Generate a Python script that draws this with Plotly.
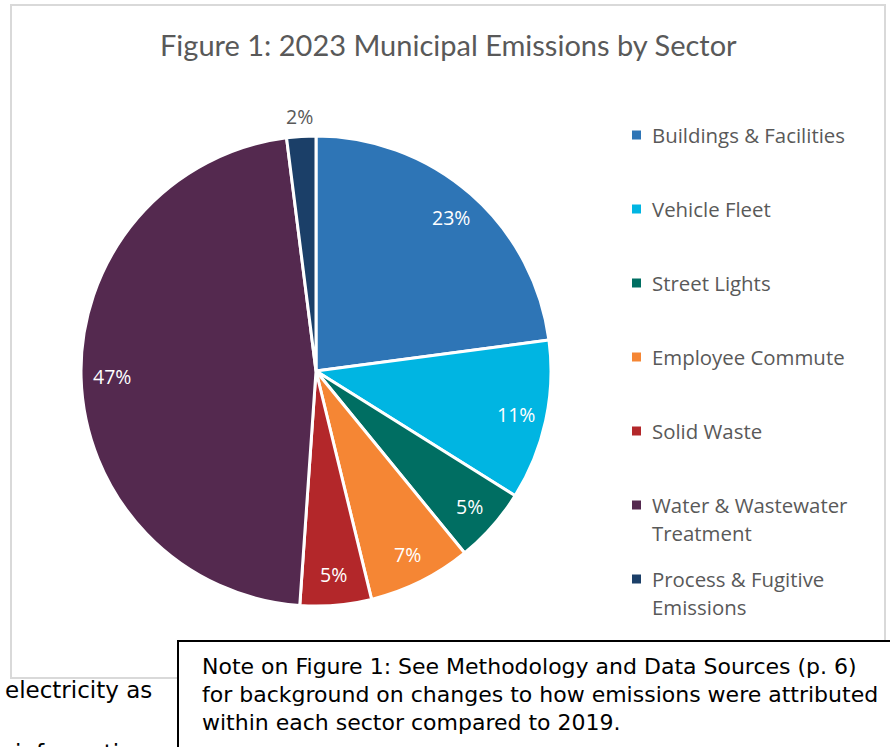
import math
import plotly.graph_objects as go

# ---- data ----
sectors = ["Buildings & Facilities", "Vehicle Fleet", "Street Lights", "Employee Commute",
           "Solid Waste", "Water & Wastewater<br>Treatment", "Process & Fugitive<br>Emissions"]
shares = [22.9, 11.0, 5.2, 7.1, 4.9, 46.9, 2.0]
colors = ["#2E75B6", "#00B5E2", "#006E62", "#F58634", "#B3272A", "#54294F", "#1B3F68"]
label_inside = [True, True, True, True, True, True, False]

title_text = "Figure 1: 2023 Municipal Emissions by Sector"
note_lines = ["Note on Figure 1: See Methodology and Data Sources (p. 6)",
              "for background on changes to how emissions were attributed",
              "within each sector compared to 2019."]
body_lines = ["electricity as", "information"]

W, H = 890, 747
def px(x):
    return x / W
def py(y):
    return 1 - y / H

# pie placement (pixels)
left, right, top, bottom = 81, 551, 136, 606
cx, cy = (left + right) / 2, (top + bottom) / 2
R = (right - left) / 2

fig = go.Figure()
fig.add_trace(go.Pie(
    labels=[s.replace("<br>", " ") for s in sectors],
    values=shares,
    sort=False,
    direction="clockwise",
    rotation=0,
    marker=dict(colors=colors, line=dict(color="white", width=3)),
    textinfo="none",
    domain=dict(x=[px(left), px(right)], y=[py(bottom), py(top)]),
    showlegend=False,
    hoverinfo="label+percent",
))

shapes = [
    dict(type="rect", xref="paper", yref="paper", x0=px(11), x1=px(885), y0=py(678), y1=py(5),
         line=dict(color="#D9D9D9", width=2), fillcolor="rgba(0,0,0,0)", layer="below"),
    dict(type="rect", xref="paper", yref="paper", x0=px(178), x1=1.02, y0=-0.02, y1=py(641),
         line=dict(color="black", width=2), fillcolor="white", layer="above"),
]
annotations = [
    dict(text=title_text, x=px(449), y=py(45), xref="paper", yref="paper", showarrow=False,
         xanchor="center", yanchor="middle", font=dict(family="Lato", size=29, color="#595959")),
]

# percentage labels placed along each slice's mid-angle
total = sum(shares)
cum = 0.0
for v, inside in zip(shares, label_inside):
    mid = (cum + v / 2) / total * 2 * math.pi
    cum += v
    r = R * (0.87 if inside else 1.085)
    x = cx + r * math.sin(mid)
    y = cy - r * math.cos(mid)
    annotations.append(dict(text=f"{round(v / total * 100)}%", x=px(x), y=py(y),
                            xref="paper", yref="paper", showarrow=False,
                            xanchor="center", yanchor="middle",
                            font=dict(family="Open Sans", size=19.5,
                                      color="white" if inside else "#595959")))

# legend built from categories
for i, (s, c) in enumerate(zip(sectors, colors)):
    yc = 135 + 74 * i
    shapes.append(dict(type="rect", xref="paper", yref="paper", x0=px(632), x1=px(641),
                       y0=py(yc + 4.5), y1=py(yc - 4.5), line=dict(width=0), fillcolor=c))
    for j, line in enumerate(s.split("<br>")):
        annotations.append(dict(text=line, x=px(650), y=py(yc + 28 * j), xref="paper", yref="paper",
                                showarrow=False, xanchor="left", yanchor="middle",
                                font=dict(family="Open Sans", size=20.4, color="#595959")))

for k, line in enumerate(note_lines):
    annotations.append(dict(text=line, x=px(200), y=py(666 + 28 * k), xref="paper", yref="paper",
                            showarrow=False, xanchor="left", yanchor="middle",
                            font=dict(family="DejaVu Sans", size=22, color="black")))

annotations.append(dict(text=body_lines[0], x=px(154), y=py(690), xref="paper", yref="paper",
                        showarrow=False, xanchor="right", yanchor="middle",
                        font=dict(family="DejaVu Sans", size=23, color="black")))
annotations.append(dict(text=body_lines[1], x=px(150), y=py(753), xref="paper", yref="paper",
                        showarrow=False, xanchor="right", yanchor="middle",
                        font=dict(family="DejaVu Sans", size=23, color="black")))

fig.update_layout(width=W, height=H, margin=dict(l=0, r=0, t=0, b=0),
                  paper_bgcolor="white", plot_bgcolor="white",
                  shapes=shapes, annotations=annotations)
fig.write_html("out.html")
